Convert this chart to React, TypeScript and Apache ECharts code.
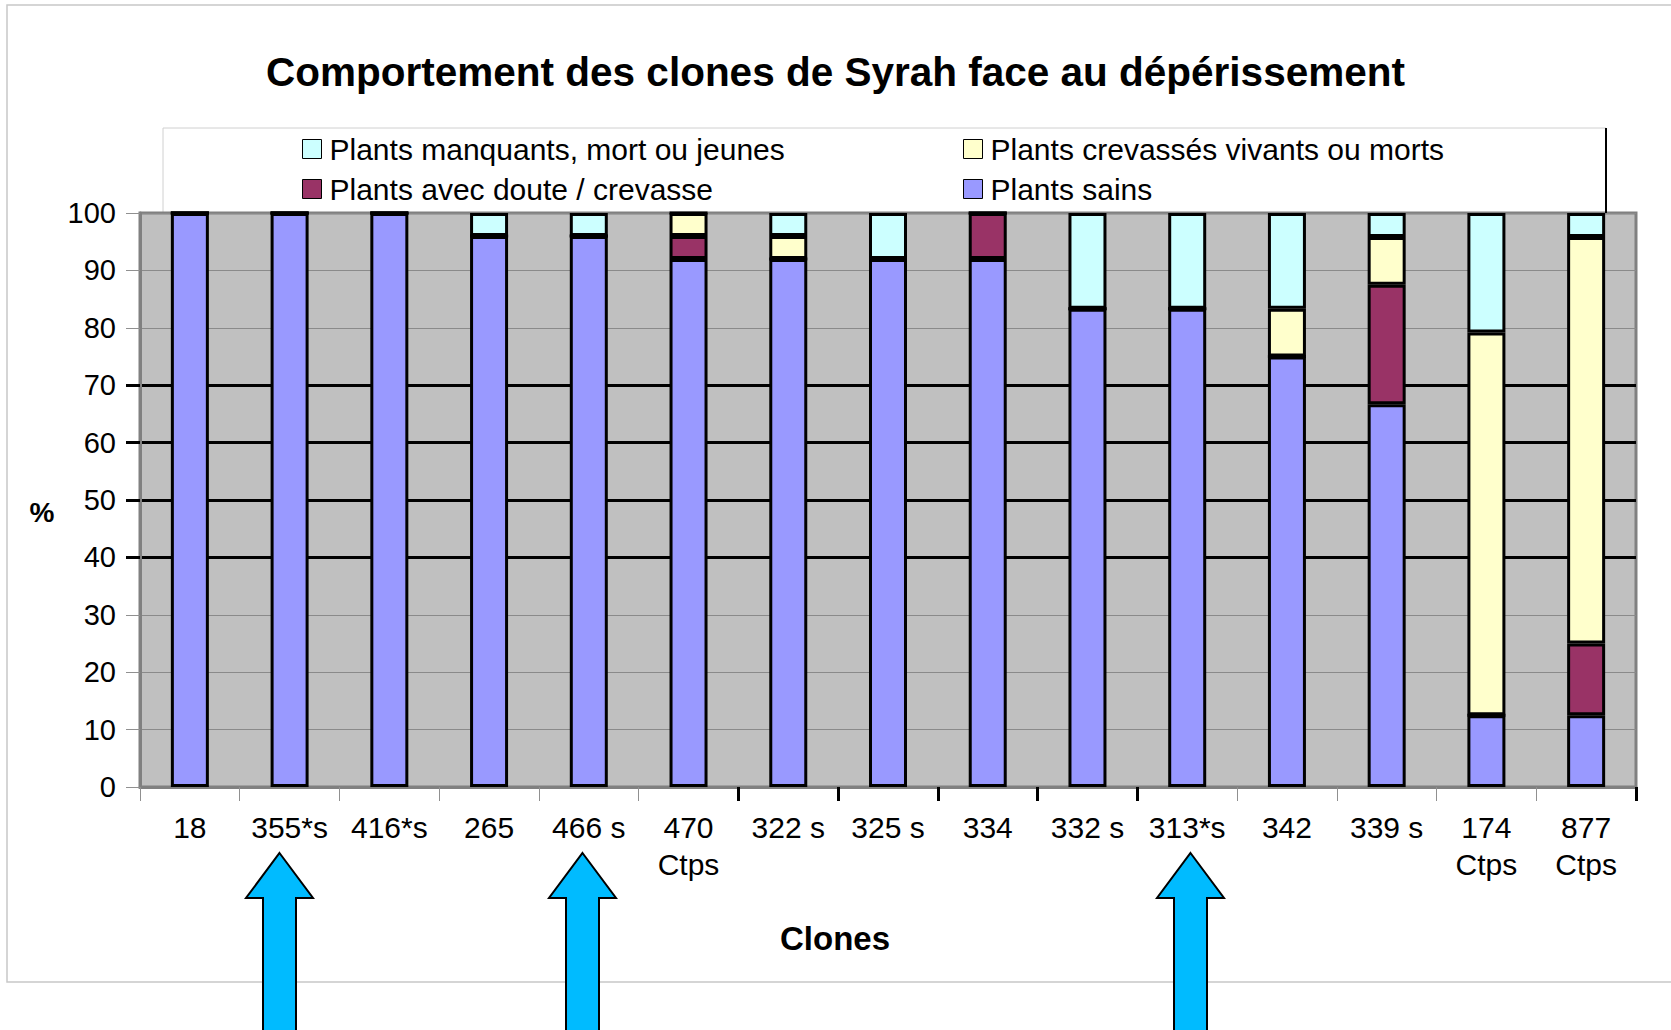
import React, { useEffect, useRef } from "react";
import * as echarts from "echarts";

const categories = ["18", "355*s", "416*s", "265", "466 s", "470\nCtps", "322 s", "325 s", "334", "332 s", "313*s", "342", "339 s", "174\nCtps", "877\nCtps"];
const sains = [100, 100, 100, 96, 96, 92, 92, 92, 92, 83.3, 83.3, 75, 66.7, 12.5, 12.5];
const doute = [0, 0, 0, 0, 0, 4, 0, 0, 8, 0, 0, 0, 20.8, 0, 12.5];
const crevasses = [0, 0, 0, 0, 0, 4, 4, 0, 0, 0, 0, 8.3, 8.3, 66.7, 70.8];
const manquants = [0, 0, 0, 4, 4, 0, 4, 8, 0, 16.7, 16.7, 16.7, 4.2, 20.8, 4.2];
const yTickLabels = ["0", "10", "20", "30", "40", "50", "60", "70", "80", "90", "100"];

const NAMES = {
  manquants: "Plants manquants, mort ou jeunes",
  crevasses: "Plants crevassés vivants ou morts",
  doute: "Plants avec doute / crevasse",
  sains: "Plants sains",
};

const FONT = "'Liberation Sans', Arial, sans-serif";

function arrow(tipX: number, tipY: number) {
  const hw = 33.5, sw = 16.5, headH = 45, bottom = 1040;
  return {
    type: "polygon",
    z: 100,
    shape: {
      points: [
        [tipX, tipY],
        [tipX + hw, tipY + headH],
        [tipX + sw, tipY + headH],
        [tipX + sw, bottom],
        [tipX - sw, bottom],
        [tipX - sw, tipY + headH],
        [tipX - hw, tipY + headH],
      ],
    },
    style: { fill: "#00BBFF", stroke: "#000", lineWidth: 2 },
  };
}

function legendItem(name: string, left: number, top: number) {
  return {
    data: [{ name, icon: "rect" }],
    left,
    top,
    orient: "horizontal",
    selectedMode: false,
    itemWidth: 19,
    itemHeight: 19,
    itemGap: 8,
    padding: 0,
    itemStyle: { borderColor: "#000", borderWidth: 1 },
    textStyle: { fontSize: 30, color: "#000", fontFamily: FONT, padding: [0, 0, 0, 3] },
  };
}

export default function App() {
  const ref = useRef<HTMLDivElement>(null);
  useEffect(() => {
    if (!ref.current) return;
    const chart = echarts.init(ref.current, null, { renderer: "svg" });
    const barStyle = (color: string) => ({ color, borderColor: "#000", borderWidth: 3 });
    const mkSeries = (name: string, data: number[], color: string) => ({
      name,
      type: "bar",
      stack: "total",
      data,
      barWidth: 38,
      itemStyle: barStyle(color),
      emphasis: { disabled: true },
    });
    chart.setOption({
      animation: false,
      backgroundColor: "#fff",
      textStyle: { fontFamily: FONT },
      title: {
        text: "Comportement des clones de Syrah face au dépérissement",
        left: "center",
        top: 46,
        textStyle: { fontSize: 40.5, fontWeight: "bold", color: "#000", fontFamily: FONT },
      },
      legend: [
        legendItem(NAMES.manquants, 302, 134),
        legendItem(NAMES.crevasses, 963, 134),
        legendItem(NAMES.doute, 302, 174),
        legendItem(NAMES.sains, 963, 174),
      ],
      grid: {
        left: 140,
        right: 35,
        top: 213,
        bottom: 243,
        show: true,
        backgroundColor: "#C0C0C0",
        borderColor: "#808080",
        borderWidth: 3,
      },
      xAxis: [
        {
          type: "category",
          data: categories,
          boundaryGap: true,
          axisLine: { lineStyle: { color: "#808080", width: 3 } },
          axisTick: { show: true, interval: 0, length: 14, lineStyle: { color: "#909090", width: 1 } },
          axisLabel: { interval: 0, fontSize: 30, lineHeight: 37, color: "#000", margin: 22, fontFamily: FONT },
          splitLine: { show: false },
        },
        {
          type: "category",
          data: categories,
          boundaryGap: true,
          position: "bottom",
          axisLine: { show: false },
          axisLabel: { show: false },
          axisTick: {
            show: true,
            interval: (i: number) => i >= 6 && i <= 10,
            length: 14,
            lineStyle: { color: "#000", width: 3 },
          },
          splitLine: { show: false },
        },
      ],
      yAxis: [
        {
          type: "value",
          min: 0,
          max: 100,
          interval: 10,
          axisLine: { show: true, lineStyle: { color: "#808080", width: 3 } },
          axisTick: { show: true, length: 14, lineStyle: { color: "#909090", width: 1 } },
          axisLabel: { fontSize: 29, color: "#000", margin: 24, fontFamily: FONT },
          splitLine: { show: true, lineStyle: { color: "#8a8a8a", width: 1 } },
        },
        {
          type: "category",
          data: yTickLabels,
          boundaryGap: false,
          position: "left",
          axisLine: { show: false },
          axisLabel: { show: false },
          axisTick: {
            show: true,
            interval: (i: number) => i >= 4 && i <= 7,
            length: 14,
            lineStyle: { color: "#000", width: 3 },
          },
          splitLine: {
            show: true,
            interval: (i: number) => i >= 4 && i <= 7,
            lineStyle: { color: "#000", width: 3 },
          },
        },
      ],
      series: [
        mkSeries(NAMES.sains, sains, "#9999FF"),
        mkSeries(NAMES.doute, doute, "#993366"),
        mkSeries(NAMES.crevasses, crevasses, "#FFFFCC"),
        mkSeries(NAMES.manquants, manquants, "#CCFFFF"),
      ],
      graphic: [
        {
          type: "rect",
          z: -10,
          silent: true,
          shape: { x: 7, y: 5, width: 1720, height: 977 },
          style: { fill: "none", stroke: "#C8C8C8", lineWidth: 1.5 },
        },
        {
          type: "rect",
          z: -5,
          silent: true,
          shape: { x: 163, y: 128, width: 1443, height: 85 },
          style: { fill: "#fff", stroke: "#D0D0D0", lineWidth: 1 },
        },
        {
          type: "line",
          z: 5,
          silent: true,
          shape: { x1: 1606, y1: 128, x2: 1606, y2: 213 },
          style: { stroke: "#000", lineWidth: 2 },
        },
        {
          type: "text",
          z: 10,
          x: 42,
          y: 512,
          style: { text: "%", fontSize: 28, fontWeight: "bold", fill: "#000", fontFamily: FONT, align: "center", verticalAlign: "middle" },
        },
        {
          type: "text",
          z: 10,
          x: 835,
          y: 938,
          style: { text: "Clones", fontSize: 33, fontWeight: "bold", fill: "#000", fontFamily: FONT, align: "center", verticalAlign: "middle" },
        },
        arrow(279.5, 853),
        arrow(582.5, 853),
        arrow(1190.5, 853),
      ],
    });
    return () => chart.dispose();
  }, []);
  return <div ref={ref} style={{ position: "fixed", left: 0, top: 0, width: 1671, height: 1030 }} />;
}
